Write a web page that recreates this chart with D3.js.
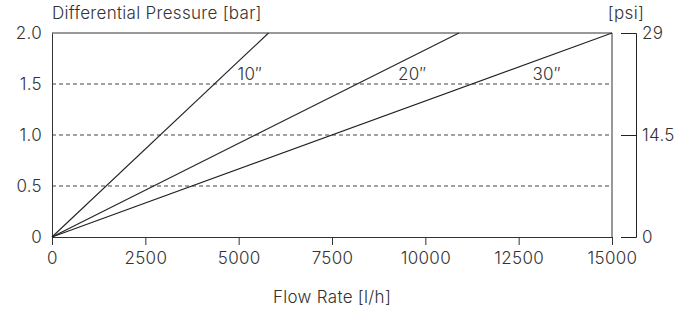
<!DOCTYPE html>
<html>
<head>
<meta charset="utf-8">
<script src="https://cdn.jsdelivr.net/npm/d3@7"></script>
<style>
  body { margin: 0; background: #fff; }
  text { font-family: "Inter", "Open Sans", sans-serif; fill: #333; font-weight: 300; letter-spacing: 0.3px; }
</style>
</head>
<body>
<svg id="chart" width="692" height="311"></svg>
<script>
// filter sizes and the flow at which each reaches 2.0 bar (lines start at the origin)
const filters = ['10″', '20″', '30″'];
const flowAtMax = [5800, 10900, 15000];
const pressureMax = 2.0;
// where the label of each line sits (flow, pressure)
const labelFlow = [5300, 9650, 13250];
const labelPressure = [1.6, 1.6, 1.6];

const xTicks = [0, 2500, 5000, 7500, 10000, 12500, 15000];
const yTicks = [0, 0.5, 1.0, 1.5, 2.0];
const psiTicks = [0, 14.5, 29];

const fs = "17px";
const margin = { top: 33, right: 80, bottom: 74, left: 52 },
  width = 692 - margin.left - margin.right,
  height = 311 - margin.top - margin.bottom;

const svg = d3.select("#chart");
const g = svg.append("g")
  .attr("transform", `translate(${margin.left},${margin.top})`);

const x = d3.scaleLinear().domain([0, 15000]).range([0, width]);
const y = d3.scaleLinear().domain([0, 2]).range([height, 0]);
const yPsi = d3.scaleLinear().domain([0, 29]).range([height, 0]);

// dashed grid
g.append("g")
  .selectAll("line")
  .data(yTicks.filter(d => d > 0 && d < 2))
  .enter()
  .append("line")
  .attr("x1", 0).attr("x2", width)
  .attr("y1", d => y(d)).attr("y2", d => y(d))
  .attr("stroke", "#444")
  .attr("stroke-width", 1)
  .attr("stroke-dasharray", "4,3");

// frame top / right
g.append("path")
  .attr("d", `M0,${y(2)}H${x(15000)}V${y(0)}`)
  .attr("fill", "none")
  .attr("stroke", "#333");

// x axis
const xAxis = g.append("g")
  .attr("transform", `translate(0,${height})`)
  .call(d3.axisBottom(x).tickValues(xTicks).tickFormat(d3.format("d")).tickSize(8).tickSizeOuter(0).tickPadding(7));
xAxis.selectAll("text").style("font-size", fs);

// left axis
const yAxis = g.append("g")
  .call(d3.axisLeft(y).tickValues(yTicks).tickFormat(d => d === 0 ? "0" : d3.format(".1f")(d)).tickSize(0).tickPadding(10));
yAxis.selectAll("text").style("font-size", fs);

[xAxis, yAxis].forEach(a => {
  a.select(".domain").attr("stroke", "#333");
  a.selectAll(".tick line").attr("stroke", "#333");
});

// right psi axis
const psiAxis = g.append("g")
  .attr("transform", `translate(${width + 24},0)`)
  .call(d3.axisRight(yPsi).tickValues(psiTicks).tickFormat(d => d).tickSize(-15).tickSizeOuter(-15).tickPadding(6));
psiAxis.select(".domain").attr("stroke", "#222");
psiAxis.selectAll(".tick line").attr("stroke", "#222");
psiAxis.selectAll("text").style("font-size", fs).attr("x", 6);

// filter lines
const line = d3.line().x(d => x(d[0])).y(d => y(d[1]));
g.selectAll(".flt")
  .data(flowAtMax)
  .enter()
  .append("path")
  .attr("class", "flt")
  .attr("d", d => line([[0, 0], [d, pressureMax]]))
  .attr("fill", "none")
  .attr("stroke", "#222")
  .attr("stroke-width", 1.1);

g.selectAll(".flt-label")
  .data(filters)
  .enter()
  .append("text")
  .attr("class", "flt-label")
  .attr("x", (d, i) => x(labelFlow[i]))
  .attr("y", (d, i) => y(labelPressure[i]))
  .attr("text-anchor", "middle")
  .attr("dy", "0.35em")
  .style("font-size", fs)
  .text(d => d);

// titles
svg.append("text")
  .attr("x", margin.left)
  .attr("y", 19)
  .style("font-size", fs)
  .text("Differential Pressure [bar]");

svg.append("text")
  .attr("x", margin.left + width + 14)
  .attr("y", 19)
  .attr("text-anchor", "middle")
  .style("font-size", fs)
  .text("[psi]");

svg.append("text")
  .attr("x", margin.left + width / 2)
  .attr("y", 303)
  .attr("text-anchor", "middle")
  .style("font-size", fs)
  .text("Flow Rate [l/h]");
</script>
</body>
</html>
